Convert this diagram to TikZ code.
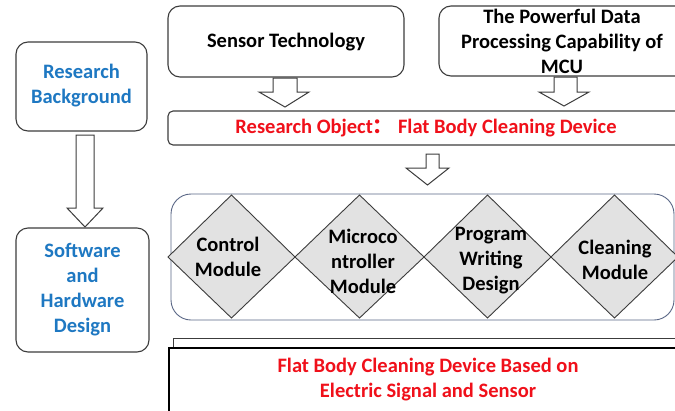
\documentclass[tikz,border=0pt]{standalone}
\usepackage{fontspec}
\setmainfont{Carlito}
\newfontfamily\cjk{Noto Sans CJK SC}
\usetikzlibrary{shapes.geometric,calc}
\definecolor{bluetxt}{HTML}{1E78C2}
\definecolor{redtxt}{HTML}{F0101A}
\definecolor{edge}{HTML}{3C3C3C}
\definecolor{cont}{HTML}{5A6786}
\definecolor{dfill}{HTML}{E2E2E2}
\tikzset{
  rbox/.style={draw=edge, line width=1.1pt, rounded corners=12pt, fill=white},
  sbox/.style={draw=edge, line width=1.1pt, rounded corners=5pt, fill=white},
  txt/.style={font=\bfseries\fontsize{20.5}{25}\selectfont, align=center, inner sep=0pt},
  hollow/.style={draw=edge, line width=1pt, fill=white},
  dia/.style={draw=edge, line width=0.9pt, fill=dfill},
}
\begin{document}
\begin{tikzpicture}[x=1pt,y=-1pt]
\clip (0,0) rectangle (675,410);
\fill[white] (0,0) rectangle (675,410);
% left column
\draw[rbox] (16,42) rectangle (147,131);
\node[txt, text=bluetxt] (rb) at (81.5,86) {Research\\Background};
\draw[hollow] (76,135) -- (94,135) -- (94,208) -- (103,208) -- (85,227) -- (67,208) -- (76,208) -- cycle;
\draw[rbox] (16,228) rectangle (149,352);
\node[txt, text=bluetxt] (sh) at (82.5,290) {Software\\and\\Hardware\\Design};
% top boxes
\draw[rbox] (168,6) rectangle (404,77);
\node[txt] (st) at (286,42) {Sensor Technology};
\draw[rbox] (439,6) rectangle (690,76);
\node[txt] (mcu) at (562,41) {The Powerful Data\\Processing Capability of\\MCU};
\draw[hollow] (273,78) -- (297,78) -- (297,92) -- (309,92) -- (285,107) -- (259,92) -- (273,92) -- cycle;
\draw[hollow] (554,77) -- (577,77) -- (577,92) -- (589,92) -- (564,106) -- (539,92) -- (554,92) -- cycle;
% research object
\draw[sbox] (168,111) rectangle (690,145);
\node[txt, text=redtxt] (ro) at (426,128) {Research Object{\cjk ：}\ Flat Body Cleaning Device};
\draw[hollow] (426,154) -- (439,154) -- (439,168) -- (449,168) -- (427.5,185) -- (406,168) -- (426,168) -- cycle;
% modules container
\draw[draw=cont, line width=0.9pt, rounded corners=20pt, fill=white] (171,194) rectangle (674,320);
\draw[dia] (168,257) -- (231.5,195) -- (295,257) -- (231.5,318) -- cycle;
\draw[dia] (295,257) -- (359.5,195) -- (424,257) -- (359.5,318) -- cycle;
\draw[dia] (424,257) -- (487.5,195) -- (551,257) -- (487.5,318) -- cycle;
\draw[dia] (551,257) -- (614.5,195) -- (678,257) -- (614.5,318) -- cycle;
\node[txt] (cm) at (228,257) {Control\\Module};
\node[txt] (mc) at (363,261) {Microco\\ntroller\\Module};
\node[txt] (pw) at (491,261) {Program\\Writing\\Design};
\node[txt] (cl) at (615,260) {Cleaning\\Module};
% bottom
\draw[draw=edge, line width=1pt, fill=white] (173,338) rectangle (690,420);
\draw[draw=black, line width=1.1pt, fill=white] (169,348) rectangle (690,420);
\node[txt, text=redtxt] (fb) at (428,380) {Flat Body Cleaning Device Based on\\Electric Signal and Sensor};
\end{tikzpicture}
\end{document}
